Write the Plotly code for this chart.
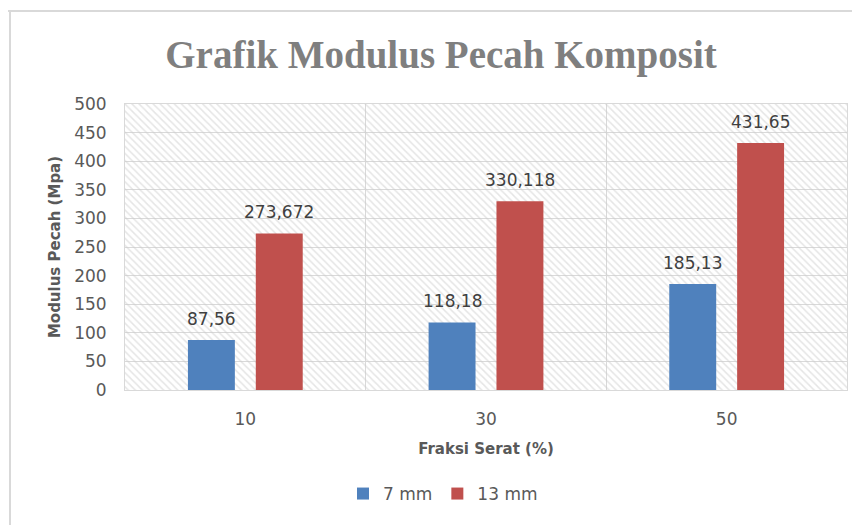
import plotly.graph_objects as go

categories = ["10", "30", "50"]
series_names = ["7 mm", "13 mm"]
values_7mm = [87.56, 118.18, 185.13]
values_13mm = [273.672, 330.118, 431.65]
labels_7mm = ["87,56", "118,18", "185,13"]
labels_13mm = ["273,672", "330,118", "431,65"]
y_ticks = [0, 50, 100, 150, 200, 250, 300, 350, 400, 450, 500]

# page body has an 8px margin; compensate so window pixels match
OFF = 8
W, H = 860 - OFF, 525 - OFF
ML, MR, MT, MB = 125 - OFF, 13, 104 - OFF, 135
PW, PH = W - ML - MR, H - MT - MB

FONT = "DejaVu Sans"
TXT = "#595959"
GRID = "#d9d9d9"

fig = go.Figure()

# hatched plot-area background (decorative)
fig.add_trace(go.Bar(
    x=[categories[1]], y=[y_ticks[-1]], width=[len(categories)],
    marker=dict(color="rgba(0,0,0,0)", line=dict(width=0),
                pattern=dict(shape="\\", fgcolor="#cccccc", bgcolor="rgba(0,0,0,0)",
                             size=5, solidity=0.3)),
    showlegend=False, hoverinfo="skip",
))

bar_w = 0.195
gap = 0.087
fig.add_trace(go.Bar(
    name=series_names[0], x=categories, y=values_7mm,
    width=bar_w, offset=-(gap / 2 + bar_w),
    marker=dict(color="#4F81BD", line=dict(width=0)),
))
fig.add_trace(go.Bar(
    name=series_names[1], x=categories, y=values_13mm,
    width=bar_w, offset=gap / 2,
    marker=dict(color="#C0504D", line=dict(width=0)),
))

annotations = []
half = gap / 2 + bar_w / 2
for vals, labs, sign in ((values_7mm, labels_7mm, -1), (values_13mm, labels_13mm, 1)):
    for i, (v, t) in enumerate(zip(vals, labs)):
        annotations.append(dict(
            x=i + sign * half, y=v, xref="x", yref="y", text=t, showarrow=False,
            xanchor="center", yanchor="bottom", yshift=9,
            font=dict(family=FONT, size=17, color="#404040"),
        ))

def px_x(p):
    return (p - OFF - ML) / PW

def px_y(p):
    return (H - MB - (p - OFF)) / PH

fig.update_layout(
    width=W, height=H,
    margin=dict(l=ML, r=MR, t=MT, b=MB),
    paper_bgcolor="white", plot_bgcolor="white",
    barmode="overlay",
    font=dict(family=FONT, color=TXT),
    annotations=annotations,
    title=dict(text="<b>Grafik Modulus Pecah Komposit</b>",
               font=dict(family="Liberation Serif", size=39, color="#7f7f7f"),
               x=(441 - OFF) / W, xanchor="center", y=1 - (54 - OFF) / H, yanchor="middle"),
    xaxis=dict(
        type="category", categoryorder="array", categoryarray=categories,
        range=[-0.5, 2.5], tickson="boundaries",
        showgrid=True, gridcolor=GRID, gridwidth=1,
        showline=True, linecolor=GRID, linewidth=1, mirror=True,
        ticks="", ticklabelstandoff=14,
        tickfont=dict(family=FONT, size=17, color=TXT),
        title=dict(text="<b>Fraksi Serat (%)</b>", standoff=15,
                   font=dict(family=FONT, size=15, color=TXT)),
    ),
    yaxis=dict(
        range=[0, 500], tickvals=y_ticks,
        showgrid=True, gridcolor=GRID, gridwidth=1,
        showline=True, linecolor=GRID, linewidth=1, mirror=True,
        zeroline=False, ticks="", ticklabelstandoff=14,
        tickfont=dict(family=FONT, size=17, color=TXT),
        title=dict(text="<b>Modulus Pecah (Mpa)</b>", standoff=9,
                   font=dict(family=FONT, size=15, color=TXT)),
    ),
    legend=dict(orientation="h", x=px_x(443), xanchor="center",
                y=px_y(494), yanchor="middle",
                font=dict(family=FONT, size=17, color=TXT),
                itemwidth=30, traceorder="normal"),
    shapes=[
        dict(type="line", xref="paper", yref="paper",
             x0=px_x(7), x1=px_x(870), y0=px_y(11), y1=px_y(11),
             line=dict(color="#d9d9d9", width=2)),
        dict(type="line", xref="paper", yref="paper",
             x0=px_x(10), x1=px_x(10), y0=px_y(11), y1=px_y(540),
             line=dict(color="#d9d9d9", width=2)),
    ],
)

fig.write_html("out.html")
